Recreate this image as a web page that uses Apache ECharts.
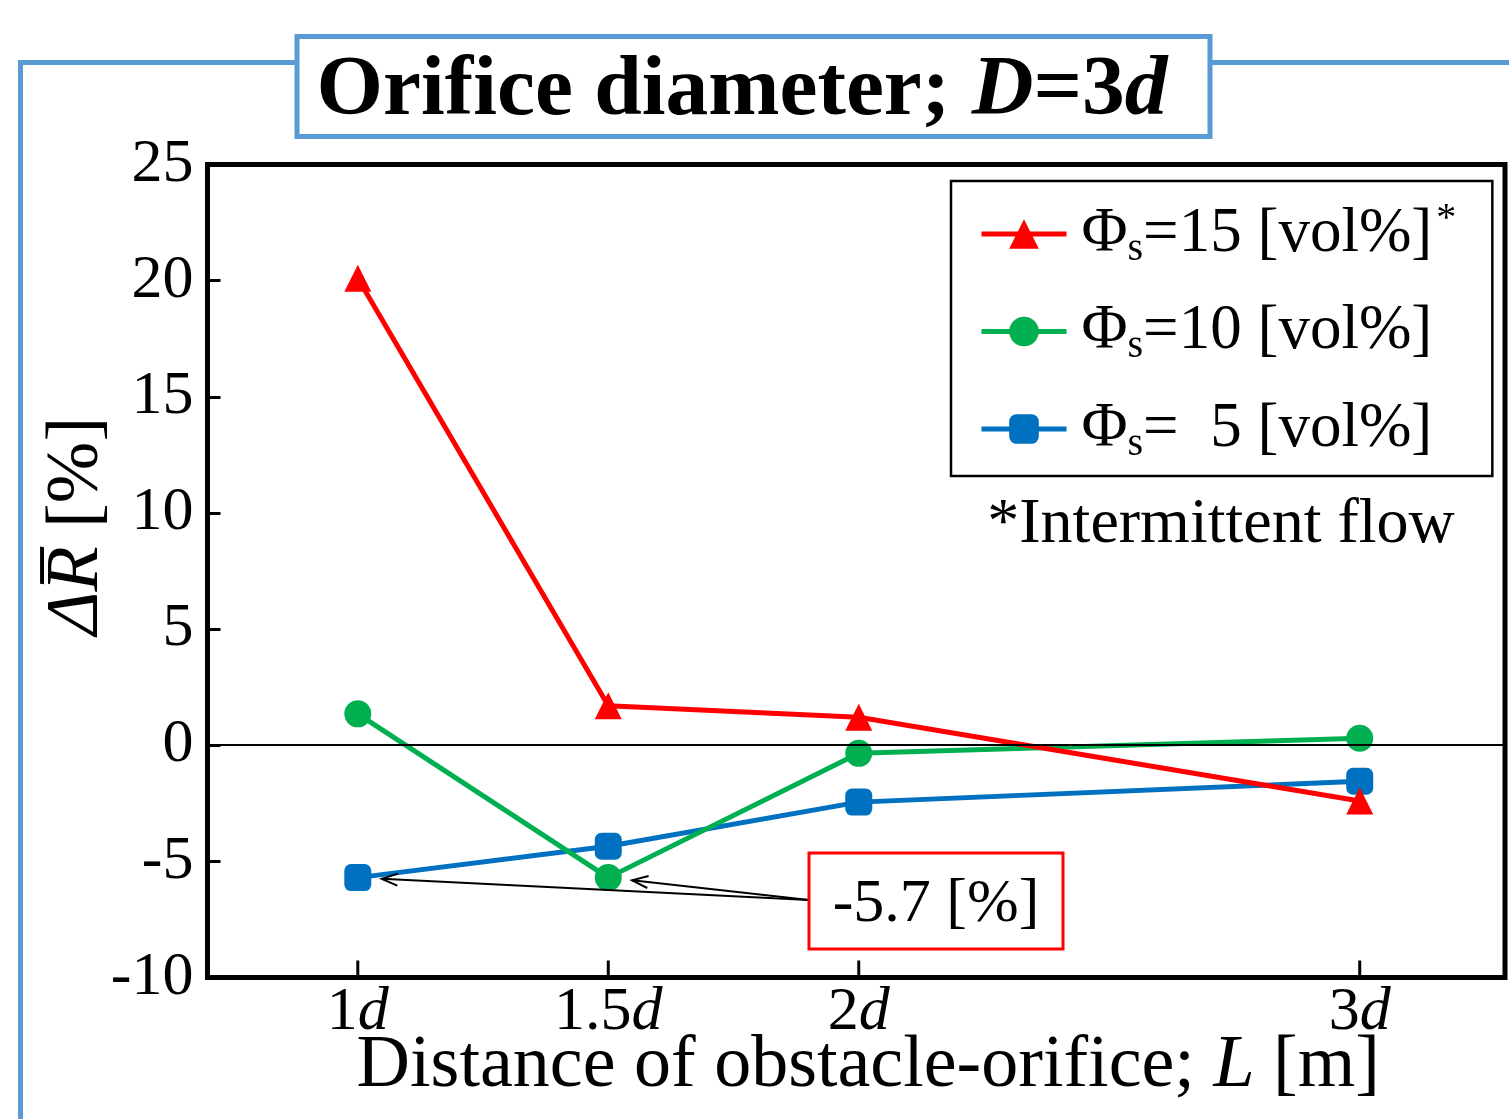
<!DOCTYPE html>
<html>
<head>
<meta charset="utf-8">
<script src="https://cdn.jsdelivr.net/npm/echarts@6/dist/echarts.min.js"></script>
<style>
  html, body { margin: 0; padding: 0; background: #fff; }
  #chart { width: 1509px; height: 1119px; }
</style>
</head>
<body>
<div id="chart"></div>
<script>
const FONT = "'Liberation Serif', 'Times New Roman', serif";

// Distance of obstacle to orifice, in multiples of d
const distances = [1, 1.5, 2, 3];
// ΔR̄ [%] for each solid volume fraction
const phi15 = [20.1, 1.7, 1.2, -2.4];
const phi10 = [1.35, -5.7, -0.35, 0.3];
const phi5 = [-5.7, -4.35, -2.45, -1.55];
const fractions = ['15', '10', '5'];
const yTicks = { min: -10, max: 25, step: 5 };
const minimumNote = -5.7;

const colors = { '15': '#ff0000', '10': '#00b050', '5': '#0070c0' };
const symbols = { '15': 'triangle', '10': 'circle', '5': 'roundRect' };
const values = { '15': phi15, '10': phi10, '5': phi5 };

const chart = echarts.init(document.getElementById('chart'), null, { renderer: 'canvas' });

function lineSeries(key, z) {
  return {
    name: key,
    type: 'line',
    z: z,
    data: distances.map((x, i) => [x, values[key][i]]),
    symbol: symbols[key],
    symbolSize: 27,
    showSymbol: true,
    lineStyle: { color: colors[key], width: 5 },
    itemStyle: { color: colors[key] },
    emphasis: { disabled: true }
  };
}

const txt = { fontFamily: FONT, color: '#000' };
const distRich = {
  n: { fontFamily: FONT, fill: '#000', fontSize: 62, lineHeight: 62 },
  i: { fontFamily: FONT, fill: '#000', fontSize: 62, lineHeight: 62, fontStyle: 'italic' }
};

const option = {
  animation: false,
  backgroundColor: '#fff',
  title: {
    text: '{b|Orifice diameter; }{bi|D}{b|=3}{bi|d}',
    left: 296.5,
    top: 33,
    padding: [12, 43, 2, 20],
    borderColor: '#5b9bd5',
    borderWidth: 5,
    backgroundColor: '#fff',
    textStyle: {
      rich: {
        b: Object.assign({ fontSize: 85.5, fontWeight: 'bold', lineHeight: 93 }, txt),
        bi: Object.assign({ fontSize: 85.5, fontWeight: 'bold', fontStyle: 'italic', lineHeight: 93 }, txt)
      }
    }
  },
  legend: {
    orient: 'vertical',
    left: 951,
    top: 181,
    padding: [18, 36, 12, 28],
    itemWidth: 85,
    itemHeight: 37,
    itemGap: 31,
    borderColor: '#000',
    borderWidth: 2.5,
    backgroundColor: '#fff',
    selectedMode: false,
    lineStyle: { width: 5 },
    data: fractions,
    formatter: function (name) {
      const v = name === '5' ? '\u00a0\u00a05' : name;
      return '{phi|\u03a6}{sub|s}{t|=' + v + ' [vol%]}' + (name === '15' ? '{sup|*}' : '');
    },
    textStyle: {
      rich: {
        phi: Object.assign({ fontSize: 63, lineHeight: 70, padding: [0, 0, 0, 10] }, txt),
        sub: Object.assign({ fontSize: 40, lineHeight: 26, verticalAlign: 'bottom' }, txt),
        t: Object.assign({ fontSize: 63, lineHeight: 70 }, txt),
        sup: Object.assign({ fontSize: 40, lineHeight: 49, verticalAlign: 'top', padding: [0, 0, 0, 4] }, txt)
      }
    }
  },
  grid: {
    left: 207.5,
    top: 164.5,
    right: 4,
    bottom: 141.5,
    outerBoundsMode: 'none',
    containLabel: false,
    show: true,
    borderColor: '#000',
    borderWidth: 5,
    backgroundColor: 'transparent'
  },
  xAxis: {
    type: 'value',
    min: 0.7,
    max: 3.29,
    name: '{n|Distance of obstacle-orifice; }{i|L}{n| [m]}',
    nameLocation: 'middle',
    nameGap: 52,
    nameMoveOverlap: false,
    nameTextStyle: {
      padding: [0, 0, 0, 24],
      rich: {
        n: Object.assign({ fontSize: 74, lineHeight: 74 }, txt),
        i: Object.assign({ fontSize: 74, lineHeight: 74, fontStyle: 'italic' }, txt)
      }
    },
    axisLine: { show: false, onZero: false },
    splitLine: { show: false },
    axisTick: { show: false },
    axisLabel: { show: false }
  },
  yAxis: {
    type: 'value',
    min: yTicks.min,
    max: yTicks.max,
    interval: yTicks.step,
    name: '{i|\u0394R\u0305}{n| [%]}',
    nameLocation: 'middle',
    nameRotate: 90,
    nameGap: 93,
    nameMoveOverlap: false,
    nameTextStyle: {
      padding: [0, 0, 0, 90],
      rich: {
        i: Object.assign({ fontSize: 74, lineHeight: 74, fontStyle: 'italic' }, txt),
        n: Object.assign({ fontSize: 74, lineHeight: 74 }, txt)
      }
    },
    axisLine: { show: false, onZero: false },
    splitLine: { show: false },
    axisTick: { show: true, inside: true, length: 13, lineStyle: { color: '#000', width: 3 } },
    axisLabel: { margin: 14, fontSize: 62, fontFamily: FONT, color: '#000' }
  },
  graphic: [
    {
      type: 'rect',
      z: 0,
      silent: true,
      shape: { x: 20.5, y: 62.5, width: 1700, height: 1300 },
      style: { fill: 'none', stroke: '#5b9bd5', lineWidth: 5 }
    },
    {
      type: 'text',
      z: 10,
      silent: true,
      x: 1221,
      y: 525,
      style: {
        text: '*Intermittent flow',
        font: '64px ' + FONT,
        fill: '#000',
        align: 'center',
        verticalAlign: 'middle'
      }
    }
  ],
  series: [
    {
      name: 'zero',
      type: 'line',
      data: [],
      z: 1,
      markLine: {
        silent: true,
        symbol: 'none',
        label: { show: false },
        lineStyle: { color: '#000', width: 2, type: 'solid' },
        data: [{ yAxis: 0 }]
      }
    },
    lineSeries('5', 2),
    lineSeries('10', 3),
    lineSeries('15', 4)
  ]
};

chart.setOption(option);

const extra = [];

// Bottom axis: inward tick marks and "n d" labels at each measured distance
distances.forEach(function (d) {
  const p = chart.convertToPixel({ gridIndex: 0 }, [d, yTicks.min]);
  extra.push({
    type: 'line', z: 5, silent: true,
    shape: { x1: p[0], y1: p[1] - 17, x2: p[0], y2: p[1] },
    style: { stroke: '#000', lineWidth: 3 }
  });
  extra.push({
    type: 'text', z: 5, silent: true,
    x: p[0], y: p[1] + 4,
    style: {
      text: '{n|' + d + '}{i|d}',
      rich: distRich,
      align: 'center',
      verticalAlign: 'top'
    }
  });
});

// Callout for the minimum value: a boxed label with arrows to the two points that reach it
(function drawCallout() {
  const box = { x: 809, y: 853, w: 254, h: 96 };
  const start = [box.x, box.y + box.h / 2 - 1];
  const targets = [
    chart.convertToPixel({ gridIndex: 0 }, [distances[0], phi5[0]]),
    chart.convertToPixel({ gridIndex: 0 }, [distances[1], phi10[1]])
  ];
  extra.push({
    type: 'rect',
    z: 10,
    silent: true,
    shape: { x: box.x, y: box.y, width: box.w, height: box.h },
    style: { fill: '#fff', stroke: '#ff0000', lineWidth: 3 }
  }, {
    type: 'text',
    z: 11,
    silent: true,
    x: box.x + box.w / 2,
    y: box.y + box.h / 2 + 4,
    style: {
      text: minimumNote.toFixed(1) + ' [%]',
      font: '62px ' + FONT,
      fill: '#000',
      align: 'center',
      verticalAlign: 'middle'
    }
  });
  targets.forEach(function (p) {
    const dx = start[0] - p[0], dy = start[1] - p[1];
    const len = Math.hypot(dx, dy);
    const ux = dx / len, uy = dy / len;
    const tip = [p[0] + ux * 24, p[1] + uy * 24];
    const head = 17, spread = 0.36;
    const ang = Math.atan2(uy, ux);
    const a1 = [tip[0] + head * Math.cos(ang + spread), tip[1] + head * Math.sin(ang + spread)];
    const a2 = [tip[0] + head * Math.cos(ang - spread), tip[1] + head * Math.sin(ang - spread)];
    extra.push({
      type: 'line', z: 9, silent: true,
      shape: { x1: start[0], y1: start[1], x2: tip[0], y2: tip[1] },
      style: { stroke: '#000', lineWidth: 2 }
    });
    extra.push({
      type: 'polyline', z: 9, silent: true,
      shape: { points: [a1, tip, a2] },
      style: { stroke: '#000', lineWidth: 2, fill: 'none' }
    });
  });
})();

chart.setOption({ graphic: option.graphic.concat(extra) });
</script>
</body>
</html>
